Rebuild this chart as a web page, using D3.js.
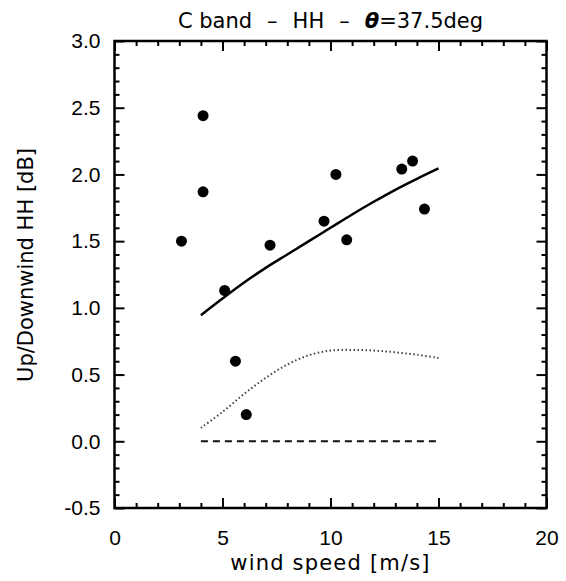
<!DOCTYPE html>
<html>
<head>
<meta charset="utf-8">
<script src="https://cdn.jsdelivr.net/npm/d3@7"></script>
<style>
  body { margin: 0; background: #fff; }
  svg { display: block; font-family: "DejaVu Sans", sans-serif; }
</style>
</head>
<body>
<svg id="chart" width="566" height="581"></svg>
<script>
// observed up/downwind ratios
const obsWind = [3.1, 4.1, 4.1, 5.1, 5.6, 6.1, 7.2, 9.7, 10.25, 10.75, 13.3, 13.8, 14.35];
const obsUD   = [1.50, 2.44, 1.87, 1.13, 0.60, 0.20, 1.47, 1.65, 2.00, 1.51, 2.04, 2.10, 1.74];

// model curves
const modelWind = [4, 5, 6, 7, 8, 9, 10, 11, 12, 13, 14, 15];
const modelFit  = [0.945, 1.07, 1.19, 1.30, 1.40, 1.50, 1.60, 1.70, 1.795, 1.885, 1.967, 2.045];
const modelDot  = [0.10, 0.22, 0.355, 0.475, 0.575, 0.645, 0.68, 0.685, 0.68, 0.667, 0.648, 0.625];
const zeroWind  = [4, 15];
const zeroUD    = [0, 0];

const xTicks = [0, 5, 10, 15, 20];
const yTicks = [-0.5, 0.0, 0.5, 1.0, 1.5, 2.0, 2.5, 3.0];

const margin = {left: 114.5, right: 19.5, top: 41, bottom: 73};
const W = 566, H = 581;
const svg = d3.select("#chart");

const x = d3.scaleLinear().domain([0, 20]).range([margin.left, W - margin.right]);
const y = d3.scaleLinear().domain([-0.5, 3.0]).range([H - margin.bottom, margin.top]);

const axisW = 2.5;
const tickStyle = g => {
  g.select(".domain").remove();
  g.selectAll(".tick line").attr("stroke", "#000").attr("stroke-width", 2);
  g.selectAll(".tick text").attr("fill", "#000").attr("font-size", 21);
};

// minor + major ticks, pointing inward on all four sides
const xMinor = d3.range(0, 21, 1).filter(v => v % 5 !== 0);
const yMinor = d3.range(-5, 31, 1).map(v => v / 10).filter(v => Math.round(v * 10) % 5 !== 0);

svg.append("g").attr("transform", `translate(0,${y(-0.5)})`)
  .call(d3.axisBottom(x).tickValues(xMinor).tickSize(-5).tickFormat(""))
  .call(tickStyle);
svg.append("g").attr("transform", `translate(0,${y(-0.5)})`)
  .call(d3.axisBottom(x).tickValues(xTicks).tickSize(-10).tickPadding(22).tickFormat(d3.format("d")))
  .call(tickStyle);
svg.append("g").attr("transform", `translate(0,${y(3.0)})`)
  .call(d3.axisTop(x).tickValues(xMinor).tickSize(-5).tickFormat(""))
  .call(tickStyle);
svg.append("g").attr("transform", `translate(0,${y(3.0)})`)
  .call(d3.axisTop(x).tickValues(xTicks).tickSize(-10).tickFormat(""))
  .call(tickStyle);

svg.append("g").attr("transform", `translate(${x(0)},0)`)
  .call(d3.axisLeft(y).tickValues(yMinor).tickSize(-5).tickFormat(""))
  .call(tickStyle);
svg.append("g").attr("transform", `translate(${x(0)},0)`)
  .call(d3.axisLeft(y).tickValues(yTicks).tickSize(-10).tickPadding(14).tickFormat(d => d3.format(".1f")(d).replace("\u2212", "-")))
  .call(tickStyle);
svg.append("g").attr("transform", `translate(${x(20)},0)`)
  .call(d3.axisRight(y).tickValues(yMinor).tickSize(-5).tickFormat(""))
  .call(tickStyle);
svg.append("g").attr("transform", `translate(${x(20)},0)`)
  .call(d3.axisRight(y).tickValues(yTicks).tickSize(-10).tickFormat(""))
  .call(tickStyle);

// frame
svg.append("rect")
  .attr("x", x(0)).attr("y", y(3.0))
  .attr("width", x(20) - x(0)).attr("height", y(-0.5) - y(3.0))
  .attr("fill", "none").attr("stroke", "#000").attr("stroke-width", axisW);

// curves
const line = d3.line().x(d => x(d[0])).y(d => y(d[1]));
const smooth = d3.line().x(d => x(d[0])).y(d => y(d[1])).curve(d3.curveCatmullRom);

svg.append("path")
  .datum(d3.zip(zeroWind, zeroUD))
  .attr("d", line)
  .attr("fill", "none").attr("stroke", "#111").attr("stroke-width", 2)
  .attr("stroke-dasharray", "7,5");

svg.append("path")
  .datum(d3.zip(modelWind, modelDot))
  .attr("d", smooth)
  .attr("fill", "none").attr("stroke", "#444").attr("stroke-width", 2)
  .attr("stroke-dasharray", "1.5,2.5");

svg.append("path")
  .datum(d3.zip(modelWind, modelFit))
  .attr("d", smooth)
  .attr("fill", "none").attr("stroke", "#000").attr("stroke-width", 2.5);

// observations
svg.append("g").selectAll("circle")
  .data(d3.zip(obsWind, obsUD))
  .join("circle")
  .attr("cx", d => x(d[0])).attr("cy", d => y(d[1]))
  .attr("r", 5.5).attr("fill", "#000");

// title and axis labels
const title = svg.append("text")
  .attr("x", (x(0) + x(20)) / 2).attr("y", 28)
  .attr("text-anchor", "middle").attr("font-size", 21);
title.append("tspan").text("C band");
title.append("tspan").attr("dx", 15).text("\u2013");
title.append("tspan").attr("dx", 15).text("HH");
title.append("tspan").attr("dx", 15).text("\u2013");
title.append("tspan").attr("dx", 15).attr("font-weight", "bold").attr("font-style", "italic").text("\u03b8");
title.append("tspan").text("=37.5deg");

svg.append("text")
  .attr("x", (x(0) + x(20)) / 2).attr("y", 570)
  .attr("text-anchor", "middle").attr("font-size", 21)
  .attr("letter-spacing", 1.2)
  .text("wind speed [m/s]");

svg.append("text")
  .attr("transform", `translate(33,265) rotate(-90)`)
  .attr("text-anchor", "middle").attr("font-size", 21)
  .text("Up/Downwind HH [dB]");
</script>
</body>
</html>
